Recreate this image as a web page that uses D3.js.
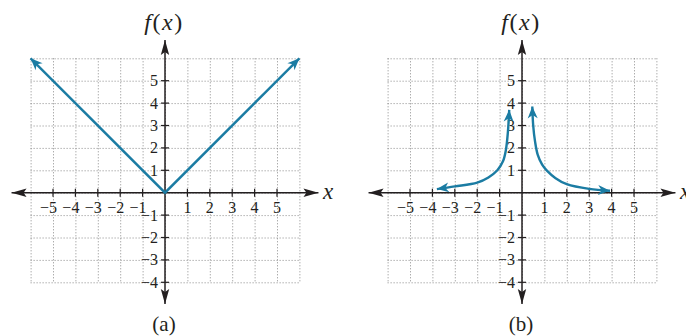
<!DOCTYPE html>
<html>
<head>
<meta charset="utf-8">
<script src="https://cdn.jsdelivr.net/npm/d3@7"></script>
<style>
  body { margin: 0; background: #fff; }
  svg text { font-family: "Liberation Serif", "DejaVu Serif", serif; fill: #231f20; }
</style>
</head>
<body>
<div id="container"></div>
<script>
let w = 686;
let h = 336;

// data
let gridX = d3.range(-6, 7);
let gridY = d3.range(-4, 7);
let xTicks = [-5, -4, -3, -2, -1, 1, 2, 3, 4, 5];
let yTicks = [-4, -3, -2, -1, 1, 2, 3, 4, 5];

let absPoints = [[-6, 6], [0, 0], [6, 6]];

let leftBranch = [[-0.57, 3.7], [-0.63, 2.7], [-0.72, 1.9], [-0.85, 1.4], [-1.1, 1.0],
                  [-1.5, 0.68], [-2, 0.45], [-3, 0.28], [-3.8, 0.16]];
let rightBranch = [[0.46, 3.85], [0.5, 3.0], [0.58, 2.3], [0.7, 1.7], [0.9, 1.25],
                   [1.1, 1.0], [1.5, 0.65], [2, 0.38], [3, 0.17], [3.93, 0.09]];

let panels = [
  { ox: 165, label: "(a)", curves: [absPoints] },
  { ox: 522, label: "(b)", curves: [leftBranch, rightBranch] }
];

let unit = 22.4;
let oy = 192.7;
let blue = "#1b7ca3";

let svg = d3.select("#container").append("svg")
            .attr("width", w)
            .attr("height", h);

let defs = svg.append("defs");

defs.append("marker")
    .attr("id", "blueArrow")
    .attr("markerUnits", "userSpaceOnUse")
    .attr("viewBox", "-13 -6 14 12")
    .attr("markerWidth", 14)
    .attr("markerHeight", 12)
    .attr("refX", 0)
    .attr("refY", 0)
    .attr("orient", "auto-start-reverse")
    .append("path")
    .attr("d", "M0,0 L-12,-5 L-8.5,0 L-12,5 Z")
    .attr("fill", blue);

defs.append("marker")
    .attr("id", "axisArrow")
    .attr("markerUnits", "userSpaceOnUse")
    .attr("viewBox", "-16 -6 17 12")
    .attr("markerWidth", 17)
    .attr("markerHeight", 12)
    .attr("refX", 0)
    .attr("refY", 0)
    .attr("orient", "auto-start-reverse")
    .append("path")
    .attr("d", "M0,0 L-15,-4.2 L-12,0 L-15,4.2 Z")
    .attr("fill", "#231f20");

panels.forEach(p => drawPanel(p));

function drawPanel(p) {
  let x = d3.scaleLinear().domain([-6, 6]).range([p.ox - 6 * unit, p.ox + 6 * unit]);
  let y = d3.scaleLinear().domain([-4, 6]).range([oy + 4 * unit, oy - 6 * unit]);

  let g = svg.append("g");

  // dotted grid
  let grid = g.append("g")
              .attr("stroke", "#8a8a8a")
              .attr("stroke-width", 1)
              .attr("stroke-dasharray", "1,2");

  grid.selectAll(".gx")
      .data(gridX)
      .enter()
      .append("line")
      .attr("x1", d => x(d) + 0.5)
      .attr("x2", d => x(d) + 0.5)
      .attr("y1", y(6))
      .attr("y2", y(-4));

  grid.selectAll(".gy")
      .data(gridY)
      .enter()
      .append("line")
      .attr("y1", d => y(d) + 0.5)
      .attr("y2", d => y(d) + 0.5)
      .attr("x1", x(-6))
      .attr("x2", x(6));

  // axes
  g.append("line")
   .attr("x1", x(-6.85)).attr("x2", x(6.85))
   .attr("y1", y(0)).attr("y2", y(0))
   .attr("stroke", "#231f20")
   .attr("stroke-width", 1.5)
   .attr("marker-start", "url(#axisArrow)")
   .attr("marker-end", "url(#axisArrow)");

  g.append("line")
   .attr("x1", x(0)).attr("x2", x(0))
   .attr("y1", y(6.82)).attr("y2", y(-4.97))
   .attr("stroke", "#231f20")
   .attr("stroke-width", 1.5)
   .attr("marker-start", "url(#axisArrow)")
   .attr("marker-end", "url(#axisArrow)");

  // tick marks
  g.selectAll(".tx")
   .data(xTicks)
   .enter()
   .append("line")
   .attr("x1", d => x(d)).attr("x2", d => x(d))
   .attr("y1", y(0) - 4).attr("y2", y(0) + 4)
   .attr("stroke", "#231f20")
   .attr("stroke-width", 1.2);

  g.selectAll(".ty")
   .data(yTicks)
   .enter()
   .append("line")
   .attr("y1", d => y(d)).attr("y2", d => y(d))
   .attr("x1", x(0) - 4).attr("x2", x(0) + 4)
   .attr("stroke", "#231f20")
   .attr("stroke-width", 1.2);

  // tick labels (digit centred on the tick, minus hangs left)
  g.selectAll(".lx")
   .data(xTicks)
   .enter()
   .append("text")
   .attr("x", d => d < 0 ? x(d) + 4 : x(d))
   .attr("y", y(0) + 20)
   .attr("text-anchor", d => d < 0 ? "end" : "middle")
   .attr("font-size", 16)
   .text(d => d < 0 ? "\u2212" + Math.abs(d) : d);

  g.selectAll(".ly")
   .data(yTicks)
   .enter()
   .append("text")
   .attr("x", x(0) - 7)
   .attr("y", d => y(d) + 5.5)
   .attr("text-anchor", "end")
   .attr("font-size", 16)
   .text(d => d < 0 ? "\u2212" + Math.abs(d) : d);

  // axis titles
  let fx = g.append("text")
            .attr("x", x(0) - 1)
            .attr("y", 30)
            .attr("text-anchor", "middle")
            .attr("font-size", 24)
            .attr("letter-spacing", 1.5);
  fx.append("tspan").attr("font-style", "italic").text("f");
  fx.append("tspan").text("(");
  fx.append("tspan").attr("font-style", "italic").text("x");
  fx.append("tspan").text(")");

  g.append("text")
   .attr("x", x(0) + 158)
   .attr("y", y(0) + 6)
   .attr("font-size", 23)
   .attr("font-style", "italic")
   .text("x");

  g.append("text")
   .attr("x", x(0) - 1)
   .attr("y", 331)
   .attr("text-anchor", "middle")
   .attr("font-size", 21)
   .text(p.label);

  // function curves
  let line = d3.line()
               .x(d => x(d[0]))
               .y(d => y(d[1]))
               .curve(d3.curveCatmullRom.alpha(0.5));

  g.selectAll(".curve")
   .data(p.curves)
   .enter()
   .append("path")
   .attr("d", d => d.length === 3 ? d3.line().x(v => x(v[0])).y(v => y(v[1]))(d) : line(d))
   .attr("fill", "none")
   .attr("stroke", blue)
   .attr("stroke-width", 2.4)
   .attr("marker-start", "url(#blueArrow)")
   .attr("marker-end", "url(#blueArrow)");
}
</script>
</body>
</html>
